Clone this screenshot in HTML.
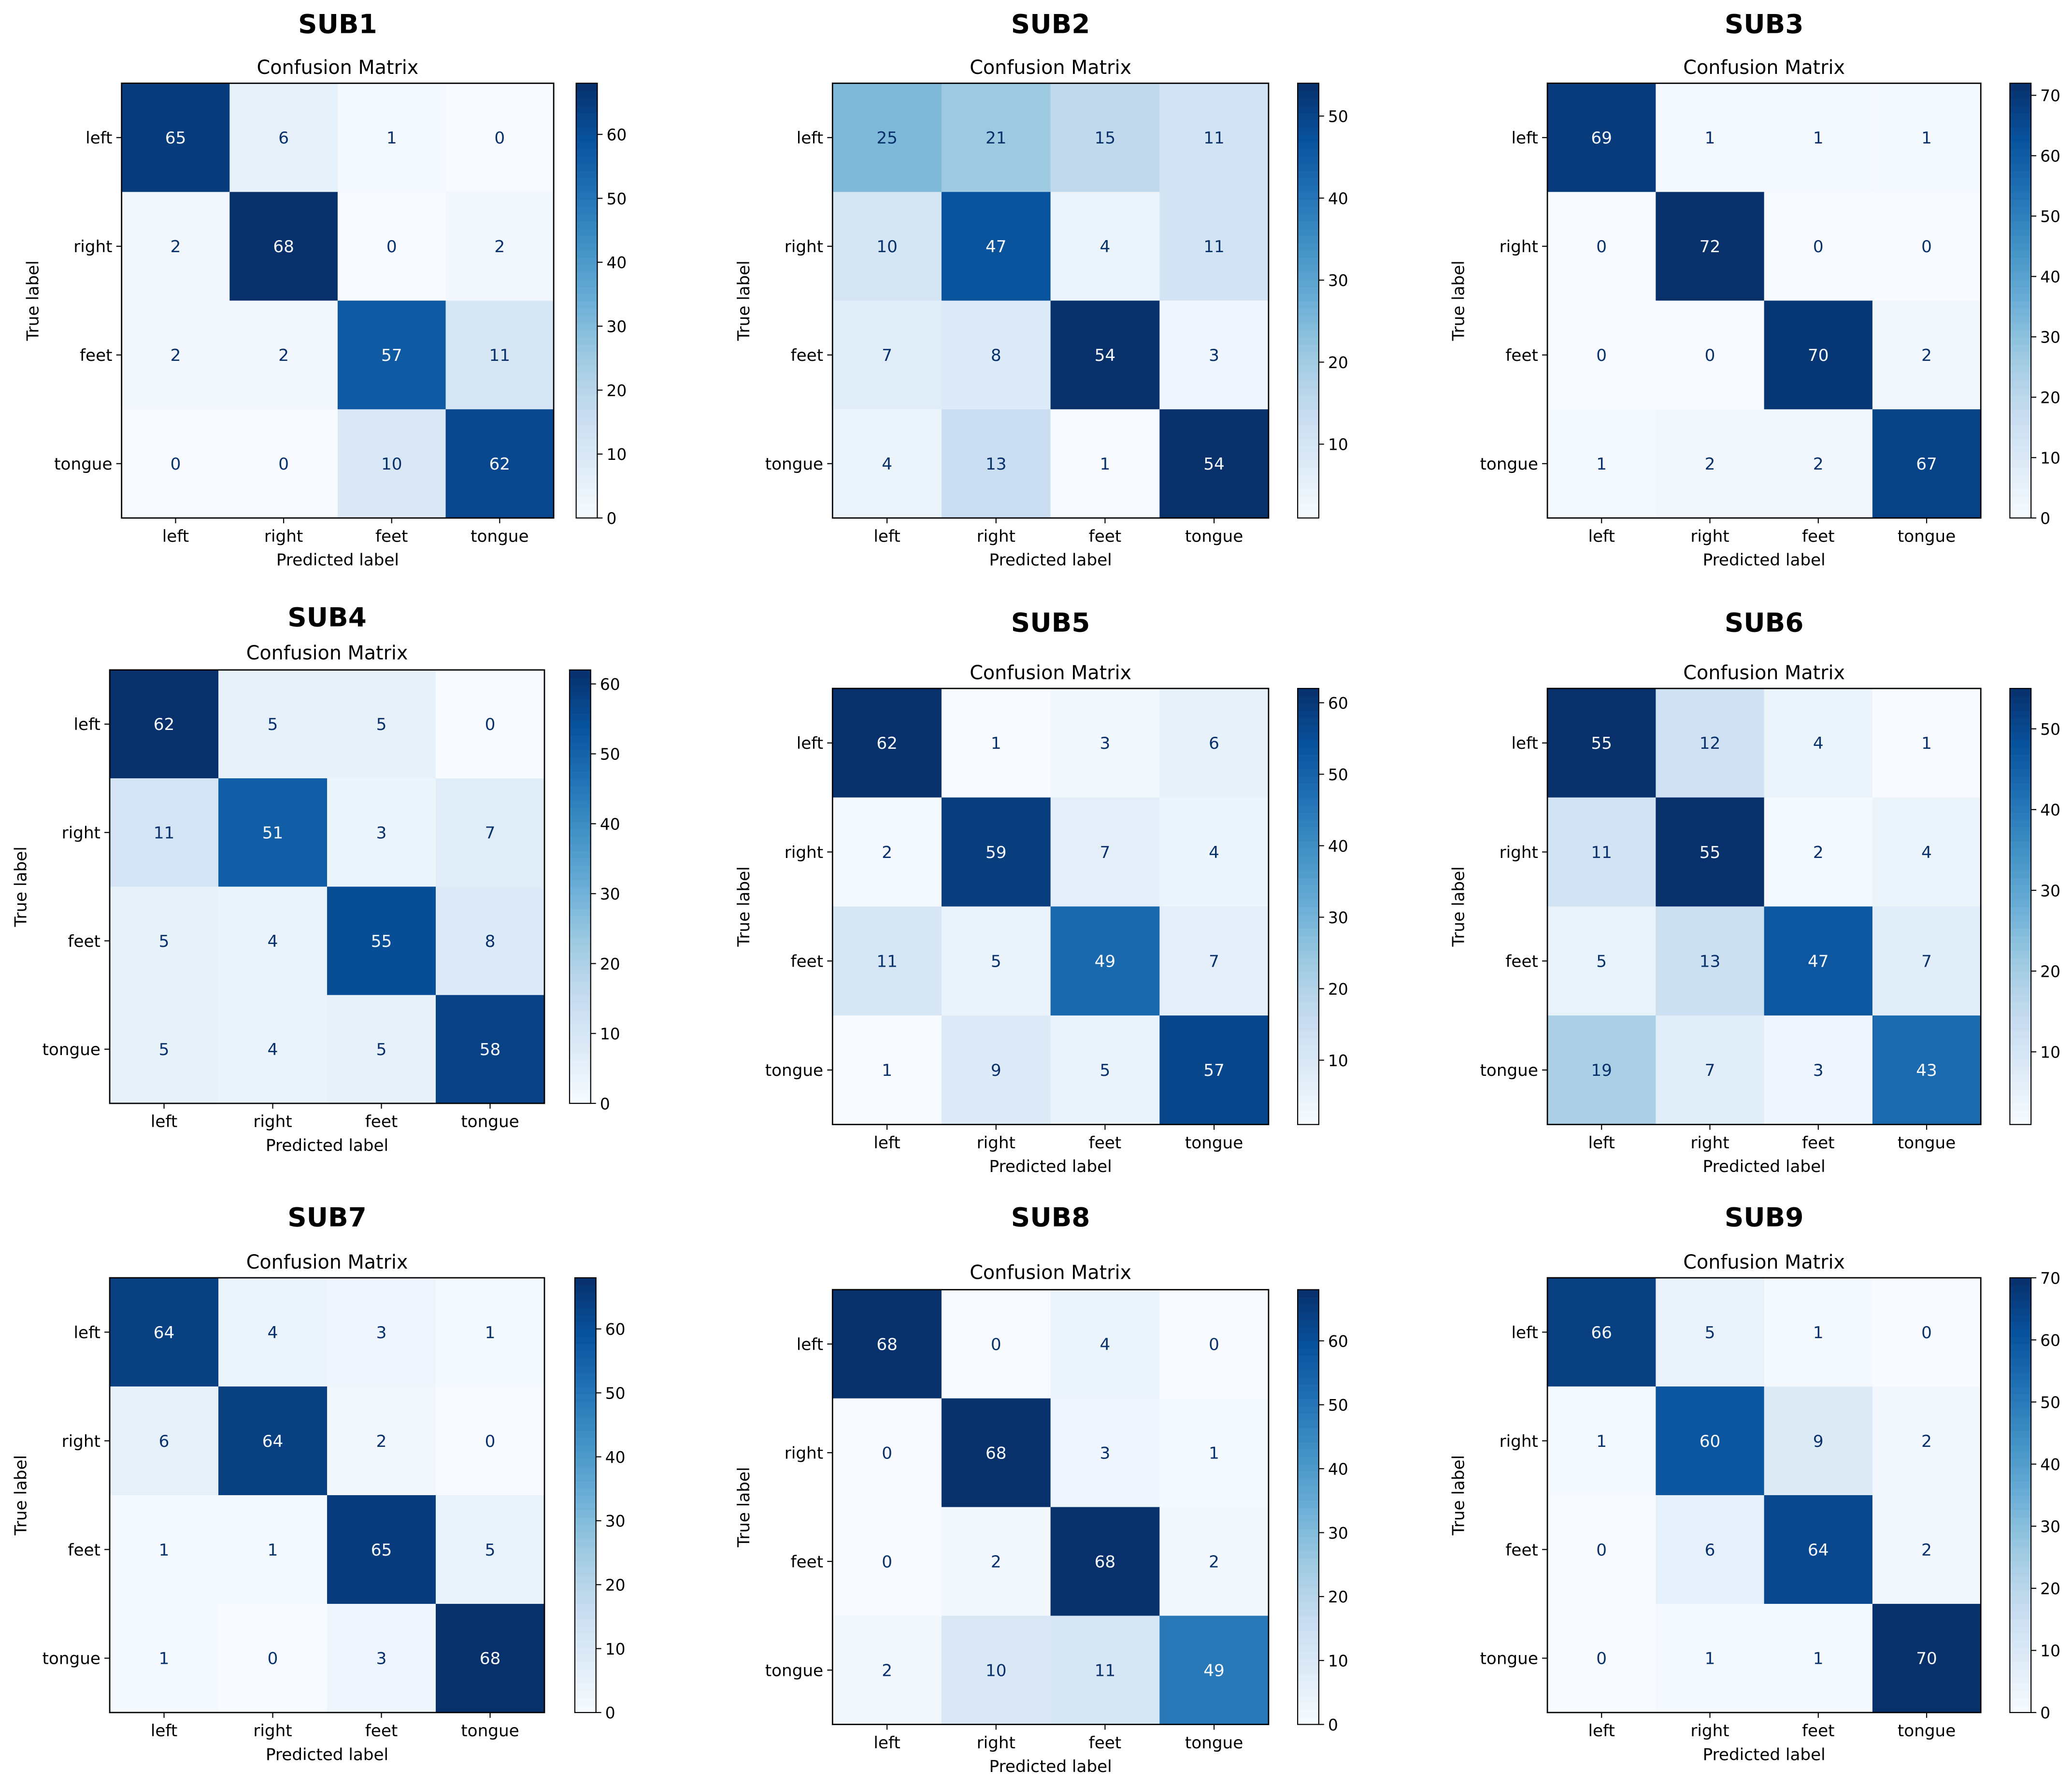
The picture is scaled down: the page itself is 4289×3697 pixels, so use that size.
<!DOCTYPE html>
<html><head><meta charset="utf-8"><style>
html,body{margin:0;padding:0;background:#fff;}
svg{display:block;}
text{font-family:"DejaVu Sans","Liberation Sans",sans-serif;}
</style></head><body>
<svg id="fig" xmlns="http://www.w3.org/2000/svg" width="4289" height="3697" viewBox="0 0 1568 1351.6"></svg>
<script>
const classes = ["left","right","feet","tongue"];
const subjects = ["SUB1","SUB2","SUB3","SUB4","SUB5","SUB6","SUB7","SUB8","SUB9"];
const m1 = [[65,6,1,0],[2,68,0,2],[2,2,57,11],[0,0,10,62]];
const m2 = [[25,21,15,11],[10,47,4,11],[7,8,54,3],[4,13,1,54]];
const m3 = [[69,1,1,1],[0,72,0,0],[0,0,70,2],[1,2,2,67]];
const m4 = [[62,5,5,0],[11,51,3,7],[5,4,55,8],[5,4,5,58]];
const m5 = [[62,1,3,6],[2,59,7,4],[11,5,49,7],[1,9,5,57]];
const m6 = [[55,12,4,1],[11,55,2,4],[5,13,47,7],[19,7,3,43]];
const m7 = [[64,4,3,1],[6,64,2,0],[1,1,65,5],[1,0,3,68]];
const m8 = [[68,0,4,0],[0,68,3,1],[0,2,68,2],[2,10,11,49]];
const m9 = [[66,5,1,0],[1,60,9,2],[0,6,64,2],[0,1,1,70]];
const matrices = [m1,m2,m3,m4,m5,m6,m7,m8,m9];
const layout = [
 {x:92,y:63,w:327,h:329,cb:436,ty:17,cy:51},
 {x:630,y:63,w:330,h:329,cb:982,ty:17,cy:51},
 {x:1171,y:63,w:328,h:329,cb:1521,ty:17,cy:51},
 {x:83,y:507,w:329,h:328,cb:431,ty:466,cy:494},
 {x:630,y:521,w:330,h:330,cb:982,ty:470,cy:509},
 {x:1171,y:521,w:328,h:330,cb:1521,ty:470,cy:509},
 {x:83,y:967,w:329,h:329,cb:435,ty:920,cy:955},
 {x:630,y:976,w:330,h:329,cb:982,ty:920,cy:963},
 {x:1171,y:967,w:328,h:329,cb:1521,ty:920,cy:955}
];
const stops=[[247,251,255],[222,235,247],[198,219,239],[158,202,225],[107,174,214],[66,146,198],[33,113,181],[8,81,156],[8,48,107]];
function blues(t){t=Math.max(0,Math.min(1,t));const p=t*8,i=Math.min(7,Math.floor(p)),f=p-i;const a=stops[i],b=stops[i+1];
 return `rgb(${a.map((v,k)=>Math.round(v+(b[k]-v)*f)).join(',')})`;}
const NS="http://www.w3.org/2000/svg";
const svg=document.getElementById('fig');
function el(tag,attrs,parent,txt){const e=document.createElementNS(NS,tag);for(const k in attrs)e.setAttribute(k,attrs[k]);if(txt!==undefined)e.textContent=txt;(parent||svg).appendChild(e);return e;}
matrices.forEach((m,si)=>{
 const L=layout[si];
 const g=el('g',{});
 
 
 const flat=m.flat();const vmin=Math.min(...flat),vmax=Math.max(...flat);
 const norm=v=>(v-vmin)/(vmax-vmin);
 const cw=L.w/4,ch=L.h/4;
 const xs=j=>L.x+cw*(j+0.5), ys=i=>L.y+ch*(i+0.5);
 const t=el('text',{x:L.x+L.w/2,y:L.ty+8,'text-anchor':'middle','font-size':20,'font-weight':'bold'},g,subjects[si]);
 
 
 const ct=el('text',{x:L.x+L.w/2,y:L.cy+5,'text-anchor':'middle','font-size':14.5},g,'Confusion Matrix');
 
 
 m.forEach((row,i)=>row.forEach((v,j)=>{
  const r=el('rect',{x:L.x+cw*j,y:L.y+ch*i,width:cw+0.3,height:ch+0.3,fill:blues(norm(v))},g);
  
  
  const tx=el('text',{x:xs(j),y:ys(i)+4.5,'text-anchor':'middle','font-size':12.5,fill:norm(v)>0.5?'#f7fbff':'#08306b'},g,String(v));
  
  
 }));
 el('rect',{x:L.x,y:L.y,width:L.w,height:L.h,fill:'none',stroke:'#000','stroke-width':1},g);
 classes.forEach((c,k)=>{
  el('line',{x1:xs(k),x2:xs(k),y1:L.y+L.h,y2:L.y+L.h+4,stroke:'#000','stroke-width':0.8},g);
  const xl=el('text',{x:xs(k),y:L.y+L.h+18,'text-anchor':'middle','font-size':12.5},g,c);
  
  
  el('line',{x1:L.x-4,x2:L.x,y1:ys(k),y2:ys(k),stroke:'#000','stroke-width':0.8},g);
  const yl=el('text',{x:L.x-7,y:ys(k)+4.5,'text-anchor':'end','font-size':12.5},g,c);
  
  
 });
 const xt=el('text',{x:L.x+L.w/2,y:L.y+L.h+36,'text-anchor':'middle','font-size':12.5},g,'Predicted label');
 
 
 const yx=L.x-63,yy=L.y+L.h/2;
 const yt=el('text',{x:yx,y:yy,'text-anchor':'middle','font-size':12.5,transform:`rotate(-90 ${yx} ${yy})`},g,'True label');
 
 
 const cbw=16,N=60;
 const cbg=el('g',{},g);
 
 
 for(let k=0;k<N;k++){
  el('rect',{x:L.cb,y:L.y+L.h-(k+1)*L.h/N,width:cbw,height:L.h/N+0.5,fill:blues((k+0.5)/N)},cbg);
 }
 el('rect',{x:L.cb,y:L.y,width:cbw,height:L.h,fill:'none',stroke:'#000','stroke-width':0.8},cbg);
 for(let v=Math.ceil(vmin/10)*10; v<=vmax; v+=10){
  const y=L.y+L.h-norm(v)*L.h;
  el('line',{x1:L.cb+cbw,x2:L.cb+cbw+4,y1:y,y2:y,stroke:'#000','stroke-width':0.8},cbg);
  const tl=el('text',{x:L.cb+cbw+7,y:y+4.5,'font-size':12},cbg,String(v));
  
  
 }
});
</script>
</body></html>
